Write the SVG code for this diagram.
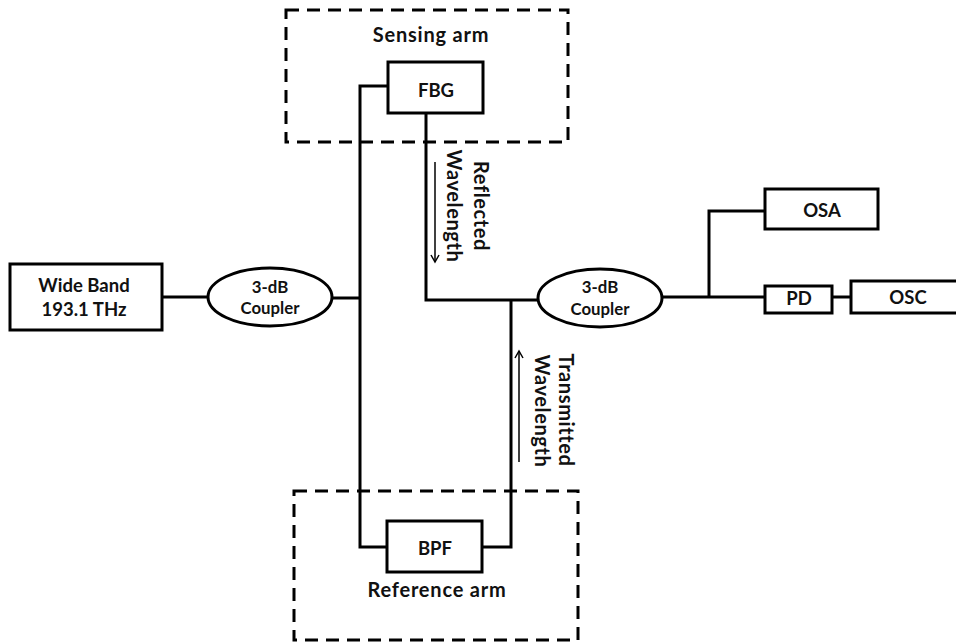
<svg xmlns="http://www.w3.org/2000/svg" width="956" height="644" viewBox="0 0 956 644">
<defs>
<marker id="ah" markerWidth="10" markerHeight="10" refX="8" refY="5" orient="auto" markerUnits="userSpaceOnUse">
<path d="M1,1 L8,5 L1,9" fill="none" stroke="#000" stroke-width="1.5"/>
</marker>
<style>
.box{fill:#fff;stroke:#000;stroke-width:3}
.arm{fill:none;stroke:#000;stroke-width:3;stroke-dasharray:13 8}
.ln{fill:none;stroke:#000;stroke-width:3}
.ar{fill:none;stroke:#000;stroke-width:1.5}
text{font-family:Lato,"Liberation Sans",sans-serif;font-weight:bold;fill:#111;text-anchor:middle}
.t18{font-size:18.5px}
.t16{font-size:16.8px}
.big{font-size:20px;letter-spacing:0.8px}
.rot{font-size:20px;letter-spacing:0.6px}
</style>
</defs>
<rect width="956" height="644" fill="#fff"/>
<g id="sensing-arm">
<rect class="arm" x="286" y="10" width="282" height="132"/>
<text class="big" x="431" y="42">Sensing arm</text>
</g>
<g id="reference-arm">
<rect class="arm" x="294" y="491" width="284" height="149"/>
<text class="big" x="437" y="597">Reference arm</text>
</g>
<g id="connectors">
<path class="ln" d="M162,297 H208"/>
<path class="ln" d="M332,298 H360"/>
<path class="ln" d="M388,86 H360 V547 H388"/>
<path class="ln" d="M426,112 V300 H538"/>
<path class="ln" d="M482,547 H511 V300"/>
<path class="ln" d="M662,297 H765"/>
<path class="ln" d="M709,297 V211 H765"/>
<path class="ln" d="M832,297 H851"/>
<path class="ar" d="M435,162 V262" marker-end="url(#ah)"/>
<path class="ar" d="M519,462 V351" marker-end="url(#ah)"/>
</g>
<g id="labels">
<text class="rot" transform="translate(474,206) rotate(90)">Reflected</text>
<text class="rot" transform="translate(447,206) rotate(90)">Wavelength</text>
<text class="rot" transform="translate(559,410) rotate(90)">Transmitted</text>
<text class="rot" transform="translate(535,411) rotate(90)">Wavelength</text>
</g>
<g id="wide-band">
<rect class="box" x="10" y="264" width="152" height="66"/>
<text class="t18" x="84" y="292">Wide Band</text>
<text class="t18" x="84" y="316">193.1 THz</text>
</g>
<g id="coupler1">
<ellipse class="box" cx="270" cy="297" rx="62" ry="29"/>
<text class="t16" x="270" y="293">3-dB</text>
<text class="t16" x="270" y="314">Coupler</text>
</g>
<g id="fbg">
<rect class="box" x="388" y="62" width="95" height="51"/>
<text class="t18" x="436" y="97">FBG</text>
</g>
<g id="bpf">
<rect class="box" x="387" y="521" width="95" height="51"/>
<text class="t18" x="435" y="555">BPF</text>
</g>
<g id="coupler2">
<ellipse class="box" cx="600" cy="298" rx="62" ry="29"/>
<text class="t16" x="600" y="293">3-dB</text>
<text class="t16" x="600" y="315">Coupler</text>
</g>
<g id="osa">
<rect class="box" x="765" y="189" width="113" height="40"/>
<text class="t18" x="822" y="217">OSA</text>
</g>
<g id="pd">
<rect class="box" x="765" y="286" width="67" height="27"/>
<text class="t18" x="799" y="305">PD</text>
</g>
<g id="osc">
<rect class="box" x="851" y="281" width="110" height="32"/>
<text class="t18" x="908" y="304">OSC</text>
</g>
</svg>
